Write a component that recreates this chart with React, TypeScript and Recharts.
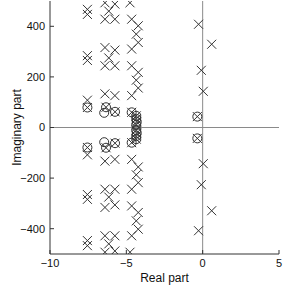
import {
  ReferenceLine,
  Scatter,
  ScatterChart,
  XAxis,
  YAxis,
} from "recharts";

// Pole-zero map. Poles drawn as "x", zeros as "o".
const poleRe = [
  -7.55, -7.55, -7.55, -7.55, -7.55, -7.55,
  -7.55, -7.55, -7.55, -7.55, -7.55, -7.55,
  -6.4, -5.75, -6.15, -6.4, -5.75, -6.4, -5.75, -6.15, -6.4, -5.75, -6.4, -5.75, -6.33, -5.74,
  -6.4, -5.75, -6.15, -6.4, -5.75, -6.4, -5.75, -6.15, -6.4, -5.75, -6.4, -5.75, -6.33, -5.74,
  -4.76, -4.65, -4.22, -4.35, -4.22, -4.65, -4.65, -4.22, -4.35, -4.22, -4.65, -4.65, -4.35, -4.35, -4.32, -4.35,
  -4.76, -4.65, -4.22, -4.35, -4.22, -4.65, -4.65, -4.22, -4.35, -4.22, -4.65, -4.65, -4.35, -4.35, -4.32, -4.35,
  -0.27, 0.59, -0.09, 0.04, -0.35,
  -0.27, 0.59, -0.09, 0.04, -0.35,
];
const poleIm = [
  467, 447, 284, 265, 108, 79,
  -467, -447, -284, -265, -108, -79,
  493, 488, 460, 428, 428, 316, 306, 275, 244, 244, 133, 126, 80, 62,
  -493, -488, -460, -428, -428, -316, -306, -275, -244, -244, -133, -126, -80, -62,
  493, 428, 402, 369, 336, 310, 244, 218, 187, 156, 126, 60, 46, 34, 22, 10,
  -493, -428, -402, -369, -336, -310, -244, -218, -187, -156, -126, -60, -46, -34, -22, -10,
  408, 329, 226, 143, 43,
  -408, -329, -226, -143, -43,
];

const zeroRe = [
  -7.55, -6.33, -6.45, -5.74, -4.65, -4.35, -4.35, -4.32, -4.35, -0.35,
  -7.55, -6.33, -6.45, -5.74, -4.65, -4.35, -4.35, -4.32, -4.35, -0.35,
];
const zeroIm = [
  79, 80, 58, 62, 60, 46, 34, 22, 10, 43,
  -79, -80, -58, -62, -60, -46, -34, -22, -10, -43,
];

const xTicks = [-10, -5, 0, 5];
const yTicks = [-400, -200, 0, 200, 400];

const poles = poleRe.map((x, i) => ({ x, y: poleIm[i] }));
const zeros = zeroRe.map((x, i) => ({ x, y: zeroIm[i] }));

const INK = "#333";
const FRAME = "#333";
const FONT = "'Liberation Sans', Arial, sans-serif";
const fmt = (v: number) => (v < 0 ? `\u2212${-v}` : `${v}`);

const Cross = (p: any) => {
  const { cx, cy } = p;
  const r = 4.5;
  return (
    <g stroke={INK} strokeWidth={1} fill="none">
      <line x1={cx - r} y1={cy - r} x2={cx + r} y2={cy + r} />
      <line x1={cx - r} y1={cy + r} x2={cx + r} y2={cy - r} />
    </g>
  );
};

const Ring = (p: any) => (
  <circle cx={p.cx} cy={p.cy} r={4.5} stroke={INK} strokeWidth={1} fill="none" />
);

export default function App() {
  const tick = { fontSize: 11, fill: "#111", fontFamily: FONT };
  return (
    <div style={{ position: "absolute", left: 0, top: 0 }}>
      <ScatterChart
        width={283}
        height={286}
        margin={{ top: 1, right: 4, bottom: 0, left: 0 }}
      >
        <XAxis
          type="number"
          dataKey="x"
          domain={[-10, 5]}
          ticks={xTicks}
          tickFormatter={fmt}
          allowDataOverflow
          height={32}
          tick={tick}
          tickSize={-4}
          tickMargin={9}
          stroke={FRAME}
          label={{
            value: "Real part",
            position: "insideBottom",
            offset: 4,
            style: { fontSize: 12, fill: "#111", fontFamily: FONT },
          }}
        />
        <XAxis
          xAxisId="top"
          orientation="top"
          type="number"
          domain={[-10, 5]}
          ticks={xTicks}
          tickFormatter={() => ""}
          height={0}
          tickSize={-4}
          stroke={FRAME}
        />
        <YAxis
          type="number"
          dataKey="y"
          domain={[-500, 500]}
          ticks={yTicks}
          tickFormatter={fmt}
          allowDataOverflow
          width={50}
          tick={tick}
          tickSize={-4}
          tickMargin={9}
          stroke={FRAME}
          label={{
            value: "Imaginary part",
            angle: -90,
            position: "insideLeft",
            offset: 17,
            style: {
              fontSize: 12,
              fill: "#111",
              fontFamily: FONT,
              textAnchor: "middle",
            },
          }}
        />
        <YAxis
          yAxisId="right"
          orientation="right"
          type="number"
          domain={[-500, 500]}
          ticks={yTicks}
          tickFormatter={() => ""}
          width={0}
          tickSize={-4}
          stroke={FRAME}
        />
        <ReferenceLine x={0} stroke="#8a8a8a" strokeWidth={1} />
        <ReferenceLine y={0} stroke="#8a8a8a" strokeWidth={1} />
        <Scatter data={poles} shape={Cross} isAnimationActive={false} />
        <Scatter data={zeros} shape={Ring} isAnimationActive={false} />
      </ScatterChart>
    </div>
  );
}
